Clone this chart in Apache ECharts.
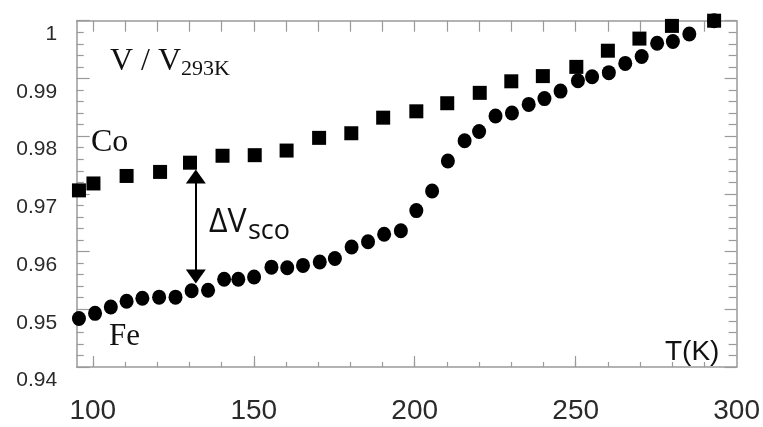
<!DOCTYPE html>
<html>
<head>
<meta charset="utf-8">
<script src="https://cdn.jsdelivr.net/npm/echarts@6/dist/echarts.min.js"></script>
<style>html,body{margin:0;padding:0;background:#fff}#c{width:763px;height:427px}</style>
</head>
<body>
<div id="c"></div>
<script>
// Co (squares)
var coT = [95.7,100.2,110.5,120.9,130.2,140.3,150.3,160.2,170.3,180.3,190.2,200.5,210.1,220.2,230,239.8,250.2,260,269.8,279.9,293];
var coV = [0.9706,0.9718,0.9731,0.9738,0.9754,0.9766,0.9767,0.9775,0.9797,0.9805,0.9832,0.9843,0.9857,0.9875,0.9895,0.9904,0.9920,0.9948,0.9969,0.9991,1.0];
// Fe (circles)
var feT = [95.7,100.7,105.6,110.5,115.4,120.6,125.7,130.7,135.8,140.8,145.2,150.1,155.5,160.4,165.3,170.5,175.2,180.4,185.5,190.5,195.7,200.5,205.4,210.3,215.5,220,225.1,230.2,235.4,240.3,245.3,250.7,255.1,260.3,265.4,270.5,275.3,280.2,285.3,293];
var feV = [0.9484,0.9493,0.9504,0.9514,0.9519,0.9521,0.9521,0.9532,0.9533,0.9552,0.9552,0.9556,0.9573,0.9572,0.9576,0.9582,0.9588,0.9608,0.9617,0.9630,0.9636,0.9671,0.9705,0.9757,0.9792,0.9808,0.9835,0.9840,0.9855,0.9865,0.9878,0.9896,0.9903,0.9910,0.9926,0.9938,0.9961,0.9964,0.9977,1.0];
// axis ticks / labels
var xLabels = [100,150,200,250,300];
var xMajorTicks = [100,150,200,250];
var xMinorTicks = [100,110,120,130,140,150,160,170,180,190,200,210,220,230,240,250,260,270,280,290];
// arrow (ΔV_SCO) endpoints
var arrowT = 132;
var arrowV = [0.9730, 0.9557];

function pairs(a, b) { return a.map(function (v, i) { return [v, b[i]]; }); }

var axisGray = '#9a9a9a';
var chart = echarts.init(document.getElementById('c'), null, {renderer: 'canvas'});
var xBase = {type: 'value', min: 95, max: 300, splitLine: {show: false}};
chart.setOption({
  animation: false,
  backgroundColor: '#fff',
  grid: {left: 76.7, right: 26, top: 20.7, bottom: 60, containLabel: false},
  xAxis: [
    Object.assign({}, xBase, {
      position: 'bottom',
      axisLine: {show: true, onZero: false, lineStyle: {color: axisGray, width: 1.5}},
      axisTick: {show: true, inside: true, length: 11, customValues: xMajorTicks, lineStyle: {color: axisGray, width: 1.2}},
      axisLabel: {show: true, customValues: xLabels, fontSize: 28, color: '#2a2a2a', fontFamily: 'Liberation Sans, Arial, sans-serif', margin: 30}
    }),
    Object.assign({}, xBase, {
      position: 'bottom',
      axisLine: {show: false, onZero: false},
      axisTick: {show: true, inside: true, length: 5, customValues: xMinorTicks, lineStyle: {color: axisGray, width: 1.2}},
      axisLabel: {show: false}
    }),
    Object.assign({}, xBase, {
      position: 'top',
      axisLine: {show: true, onZero: false, lineStyle: {color: axisGray, width: 1.5}},
      axisTick: {show: true, inside: true, length: 11, customValues: xMinorTicks, lineStyle: {color: axisGray, width: 1.2}},
      axisLabel: {show: false}
    })
  ],
  yAxis: [
    {
      type: 'value', min: 0.94, max: 1.0, interval: 0.01, position: 'left',
      splitLine: {show: false},
      axisLine: {show: true, onZero: false, lineStyle: {color: axisGray, width: 1.5}},
      axisTick: {show: true, inside: true, length: 13, lineStyle: {color: axisGray, width: 1.2}},
      minorTick: {show: true, splitNumber: 5, length: 7, lineStyle: {color: axisGray, width: 1.2}},
      axisLabel: {show: true, fontSize: 21, color: '#2a2a2a', fontFamily: 'Liberation Sans, Arial, sans-serif', margin: 19.5, verticalAlign: 'top', padding: [3, 0, 0, 0]}
    },
    {
      type: 'value', min: 0.94, max: 1.0, interval: 0.01, position: 'right',
      splitLine: {show: false},
      axisLine: {show: true, onZero: false, lineStyle: {color: axisGray, width: 1.5}},
      axisTick: {show: true, inside: true, length: 12, lineStyle: {color: axisGray, width: 1.2}},
      minorTick: {show: true, splitNumber: 5, length: 8, lineStyle: {color: axisGray, width: 1.2}},
      axisLabel: {show: false}
    }
  ],
  series: [
    {
      name: 'Co', type: 'scatter', xAxisIndex: 0, yAxisIndex: 0,
      symbol: 'rect', symbolSize: 14, clip: false,
      itemStyle: {color: '#000', opacity: 1},
      data: pairs(coT, coV),
      markLine: {
        silent: true, symbol: ['triangle', 'triangle'], symbolSize: [20, 14],
        lineStyle: {color: '#000', width: 2, type: 'solid', opacity: 1},
        itemStyle: {color: '#000'},
        label: {show: false},
        data: [[{coord: [arrowT, arrowV[0]]}, {coord: [arrowT, arrowV[1]]}]]
      }
    },
    {
      name: 'Fe', type: 'scatter', xAxisIndex: 0, yAxisIndex: 0,
      symbol: 'circle', symbolSize: [14, 15], clip: false,
      itemStyle: {color: '#000', opacity: 1},
      data: pairs(feT, feV)
    }
  ],
  graphic: [
    {type: 'text', x: 110, y: 61.5, style: {text: 'V / V', font: '32px "Liberation Serif", serif', fill: '#111', textAlign: 'left', textVerticalAlign: 'middle'}},
    {type: 'text', x: 181, y: 69.3, style: {text: '293K', font: '22px "Liberation Serif", serif', fill: '#111', textAlign: 'left', textVerticalAlign: 'middle'}},
    {type: 'text', x: 91, y: 142.5, style: {text: 'Co', font: '32px "Liberation Serif", serif', fill: '#111', textAlign: 'left', textVerticalAlign: 'middle'}},
    {type: 'text', x: 109, y: 336.5, style: {text: 'Fe', font: '31px "Liberation Serif", serif', fill: '#111', textAlign: 'left', textVerticalAlign: 'middle'}},
    {type: 'text', x: 209, y: 222.5, style: {text: 'ΔV', font: '32px "Open Sans", sans-serif', fill: '#111', textAlign: 'left', textVerticalAlign: 'middle'}},
    {type: 'text', x: 248, y: 231.5, style: {text: 'sco', font: '27px "Open Sans", sans-serif', fill: '#111', textAlign: 'left', textVerticalAlign: 'middle'}},
    {type: 'text', x: 665, y: 352, style: {text: 'T(K)', font: '28px "Liberation Sans", Arial, sans-serif', fill: '#111', textAlign: 'left', textVerticalAlign: 'middle'}}
  ]
});
</script>
</body>
</html>
